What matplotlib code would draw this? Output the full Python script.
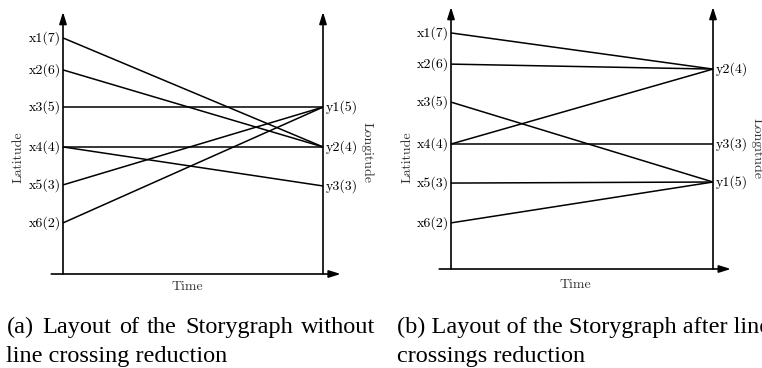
import matplotlib
matplotlib.use("Agg")
import matplotlib.pyplot as plt

W, H = 762, 368

# graph data: left nodes (latitude), right nodes (longitude), and edges
left_nodes = ["x1(7)", "x2(6)", "x3(5)", "x4(4)", "x5(3)", "x6(2)"]
right_nodes = ["y1(5)", "y2(4)", "y3(3)"]
edges = [(0, 1), (1, 1), (2, 0), (3, 1), (3, 2), (4, 0), (5, 0)]

# vertical layout positions (0 = time axis, 100 = arrow tip)
pos_a_left = [90.1, 77.9, 63.7, 48.5, 34.0, 19.5]
pos_a_right = [63.7, 48.5, 33.6]
pos_b_left = [90.1, 78.2, 63.7, 47.7, 32.8, 17.6]
pos_b_right = [33.2, 76.3, 47.7]

caption_a = ["(a) Layout of the Storygraph without", "line crossing reduction"]
caption_b = ["(b) Layout of the Storygraph after line", "crossings reduction"]

GRAPH_FONT = "cmr10"
CAPTION_FONT = "Liberation Serif"


def fx(x):
    return x / W


def fy(y):
    return 1 - y / H


def draw_panel(fig, left, top, right, bottom, lpos, rpos):
    ax = fig.add_axes([fx(left), fy(bottom), (right - left) / W, (bottom - top) / H])
    ax.set_xlim(0, 1)
    ax.set_ylim(0, 100)
    ax.axis("off")

    for i, j in edges:
        ax.plot([0, 1], [lpos[i], rpos[j]], color="black", lw=1.1,
                solid_capstyle="butt", clip_on=False)

    arrow = dict(arrowstyle="-|>,head_length=0.7,head_width=0.22", color="black",
                 lw=1.2, shrinkA=0, shrinkB=0, mutation_scale=10)
    ax.annotate("", xy=(0, 100), xytext=(0, 0), arrowprops=arrow, annotation_clip=False)
    ax.annotate("", xy=(1, 100), xytext=(1, 0), arrowprops=arrow, annotation_clip=False)
    ax.annotate("", xy=(1.068, 0), xytext=(-0.045, 0), arrowprops=arrow,
                annotation_clip=False)

    for name, y in zip(left_nodes, lpos):
        ax.annotate(name, xy=(0, y), xytext=(-2, 0), textcoords="offset pixels",
                    ha="right", va="center", fontfamily=GRAPH_FONT, fontsize=10,
                    annotation_clip=False)
    for name, y in zip(right_nodes, rpos):
        ax.annotate(name, xy=(1, y), xytext=(3, 0), textcoords="offset pixels",
                    ha="left", va="center", fontfamily=GRAPH_FONT, fontsize=10,
                    annotation_clip=False)
    return ax


def justified(fig, text, x0, x1, y, **kw):
    words = text.split()
    r = fig.canvas.get_renderer()
    items = [fig.text(0, fy(y), w, va="baseline", **kw) for w in words]
    widths = [t.get_window_extent(r).width for t in items]
    gap = (x1 - x0 - sum(widths)) / (len(words) - 1)
    x = x0
    for t, w in zip(items, widths):
        t.set_x(fx(x))
        x += w + gap


fig = plt.figure(figsize=(W / 100, H / 100), dpi=100)

draw_panel(fig, 63, 12, 323, 274, pos_a_left, pos_a_right)
draw_panel(fig, 451, 7, 713, 269, pos_b_left, pos_b_right)

lab = dict(fontfamily=GRAPH_FONT, fontsize=10, color="#333333", ha="center", va="center")
fig.text(fx(18), fy(157), "Latitude", rotation=90, **lab)
fig.text(fx(367), fy(152), "Longitude", rotation=-90, **lab)
fig.text(fx(187), fy(287), "Time", **lab)
fig.text(fx(407), fy(157), "Latitude", rotation=90, **lab)
fig.text(fx(757), fy(148), "Longitude", rotation=-90, **lab)
fig.text(fx(575), fy(285), "Time", **lab)

cap = dict(fontfamily=CAPTION_FONT, fontsize=17.5, color="black")
justified(fig, caption_a[0], 7, 375, 333, **cap)
fig.text(fx(6), fy(362), caption_a[1], va="baseline", **cap)
fig.text(fx(397), fy(333), caption_b[0], va="baseline", **cap)
fig.text(fx(397), fy(362), caption_b[1], va="baseline", **cap)

fig.savefig("out.png", dpi=100)
